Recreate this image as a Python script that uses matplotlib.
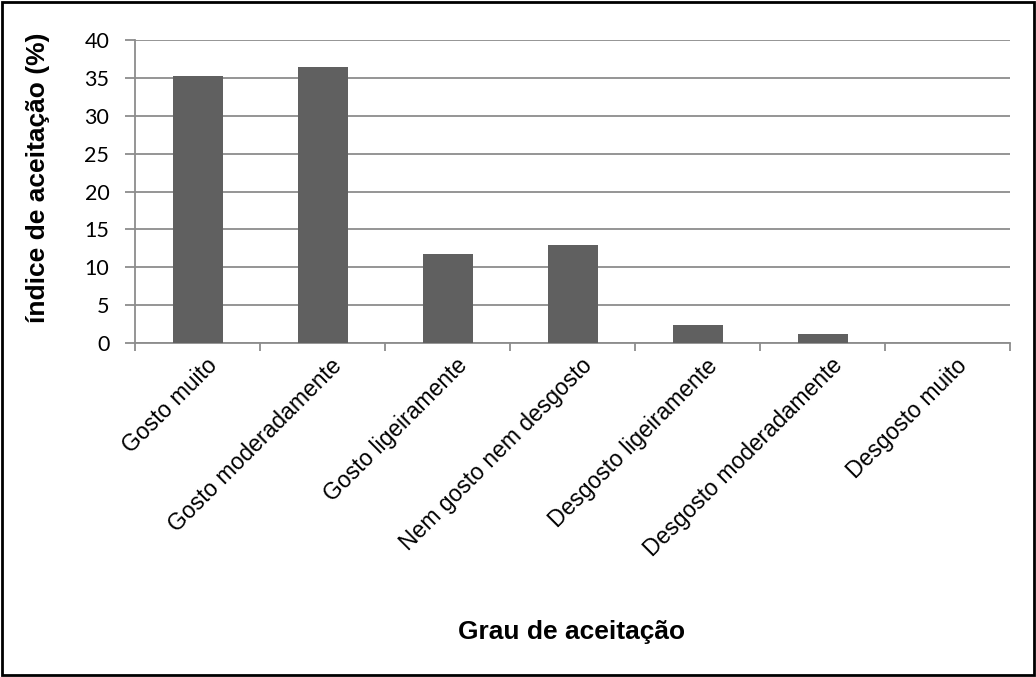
import numpy as np
import matplotlib.pyplot as plt
import matplotlib.transforms as mtransforms
from matplotlib.patches import Rectangle

# acceptance test results (% of panelists)
categorias = ['Gosto muito', 'Gosto moderadamente', 'Gosto ligeiramente',
              'Nem gosto nem desgosto', 'Desgosto ligeiramente',
              'Desgosto moderadamente', 'Desgosto muito']
indice = [35.29, 36.47, 11.76, 12.94, 2.35, 1.18, 0.0]
yticks = [0, 5, 10, 15, 20, 25, 30, 35, 40]

W, H = 1036, 677
fig = plt.figure(figsize=(W / 100, H / 100), dpi=100)
ax = fig.add_axes([135 / W, 1 - 343 / H, (1010 - 135) / W, (343 - 40) / H])

x = np.arange(len(categorias))
ax.bar(x, indice, width=0.4, color='#606060', zorder=3)

ax.set_xlim(-0.5, len(categorias) - 0.5)
ax.set_ylim(0, 40)
ax.set_yticks(yticks)
ax.set_yticklabels([str(v) for v in yticks], fontsize=15.5, family='Lato')
ax.yaxis.grid(True, color='#8c8c8c', linewidth=1.3, zorder=0)

# ticks on the category boundaries, labels centred under the bars
ax.set_xticks(np.arange(-0.5, len(categorias)), minor=False)
ax.set_xticklabels([])
ax.set_xticks(x, minor=True)
ax.set_xticklabels(categorias, minor=True, rotation=45, ha='right',
                   rotation_mode='anchor', fontsize=16.5, family='Liberation Sans')
ax.tick_params(axis='x', which='minor', length=0, pad=8)
ax.tick_params(axis='x', which='major', length=6, width=1.3, color='#8c8c8c')
ax.tick_params(axis='y', length=7, width=1.3, color='#8c8c8c', pad=11.5)

# nudge the slanted labels a little to the right
shift = mtransforms.ScaledTranslation(8 / 100, 0, fig.dpi_scale_trans)
for lbl in ax.get_xticklabels(minor=True):
    lbl.set_transform(lbl.get_transform() + shift)

for s in ['top', 'right']:
    ax.spines[s].set_visible(False)
for s in ['left', 'bottom']:
    ax.spines[s].set_color('#8c8c8c')
    ax.spines[s].set_linewidth(1.3)

fig.text(38 / W, 1 - 178 / H, 'índice de aceitação (%)', fontsize=19,
         fontweight='bold', family='Liberation Sans', rotation=90,
         ha='center', va='center')
fig.text(572 / W, 1 - 632 / H, 'Grau de aceitação', fontsize=19,
         fontweight='bold', family='Liberation Sans', ha='center', va='center')

fig.patches.append(Rectangle((2 / W, 2 / H), 1 - 4 / W, 1 - 4 / H,
                             transform=fig.transFigure, fill=False,
                             edgecolor='black', linewidth=2))

fig.savefig('out.png', dpi=100)
